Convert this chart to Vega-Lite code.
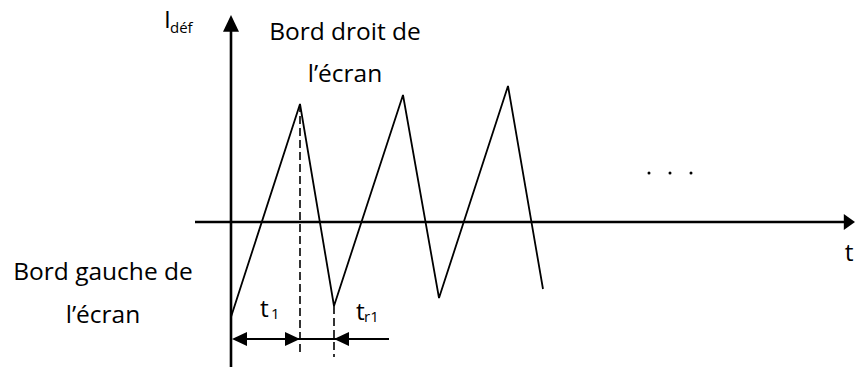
{
  "$schema": "https://vega.github.io/schema/vega-lite/v6.json",
  "width": 855,
  "height": 369,
  "padding": 0,
  "autosize": {"type": "fit", "contains": "padding"},
  "background": "white",
  "config": {"view": {"stroke": null}},
  "layer": [
    {
      "data": {"values": [
        {"x": 0, "y": -95}, {"x": 69, "y": 118}, {"x": 103, "y": -84},
        {"x": 172, "y": 127}, {"x": 208, "y": -76}, {"x": 277, "y": 136},
        {"x": 312, "y": -67}
      ]},
      "mark": {"type": "line", "color": "black", "strokeWidth": 1.8},
      "encoding": {
        "x": {"field": "x", "type": "quantitative", "scale": {"domain": [-231, 624], "nice": false, "zero": false}, "axis": null},
        "y": {"field": "y", "type": "quantitative", "scale": {"domain": [-147, 222], "nice": false, "zero": false}, "axis": null},
        "order": {"field": "x"}
      }
    },
    {
      "data": {"values": [
        {"x": 0, "y": -145, "x2": 0, "y2": 192},
        {"x": -36, "y": 0, "x2": 615, "y2": 0}
      ]},
      "mark": {"type": "rule", "color": "black", "strokeWidth": 2.6},
      "encoding": {
        "x": {"field": "x", "type": "quantitative", "scale": {"domain": [-231, 624], "nice": false, "zero": false}, "axis": null},
        "y": {"field": "y", "type": "quantitative", "scale": {"domain": [-147, 222], "nice": false, "zero": false}, "axis": null},
        "x2": {"field": "x2"},
        "y2": {"field": "y2"}
      }
    },
    {
      "data": {"values": [
        {"x": 69, "y": 118, "x2": 69, "y2": -131},
        {"x": 103, "y": -84, "x2": 103, "y2": -135}
      ]},
      "mark": {"type": "rule", "color": "black", "strokeWidth": 1.6, "strokeDash": [8, 4]},
      "encoding": {
        "x": {"field": "x", "type": "quantitative", "scale": {"domain": [-231, 624], "nice": false, "zero": false}, "axis": null},
        "y": {"field": "y", "type": "quantitative", "scale": {"domain": [-147, 222], "nice": false, "zero": false}, "axis": null},
        "x2": {"field": "x2"},
        "y2": {"field": "y2"}
      }
    },
    {
      "data": {"values": [
        {"x": 4, "y": -117, "x2": 158, "y2": -117}
      ]},
      "mark": {"type": "rule", "color": "black", "strokeWidth": 2},
      "encoding": {
        "x": {"field": "x", "type": "quantitative", "scale": {"domain": [-231, 624], "nice": false, "zero": false}, "axis": null},
        "y": {"field": "y", "type": "quantitative", "scale": {"domain": [-147, 222], "nice": false, "zero": false}, "axis": null},
        "x2": {"field": "x2"},
        "y2": {"field": "y2"}
      }
    },
    {
      "data": {"values": [{"x": 0, "y": 207}]},
      "mark": {"type": "point", "shape": "M0,0L-1,2.1L1,2.1Z", "size": 256, "filled": true, "color": "black", "opacity": 1, "strokeWidth": 0},
      "encoding": {
        "x": {"field": "x", "type": "quantitative", "scale": {"domain": [-231, 624], "nice": false, "zero": false}, "axis": null},
        "y": {"field": "y", "type": "quantitative", "scale": {"domain": [-147, 222], "nice": false, "zero": false}, "axis": null}
      }
    },
    {
      "data": {"values": [{"x": 624, "y": 0}]},
      "mark": {"type": "point", "shape": "M0,0L-1.4,-1L-1.4,1Z", "size": 256, "filled": true, "color": "black", "opacity": 1, "strokeWidth": 0},
      "encoding": {
        "x": {"field": "x", "type": "quantitative", "scale": {"domain": [-231, 624], "nice": false, "zero": false}, "axis": null},
        "y": {"field": "y", "type": "quantitative", "scale": {"domain": [-147, 222], "nice": false, "zero": false}, "axis": null}
      }
    },
    {
      "data": {"values": [{"x": 1, "y": -117}, {"x": 103, "y": -117}]},
      "mark": {"type": "point", "shape": "M0,0L2.14,-1L2.14,1Z", "size": 196, "filled": true, "color": "black", "opacity": 1, "strokeWidth": 0},
      "encoding": {
        "x": {"field": "x", "type": "quantitative", "scale": {"domain": [-231, 624], "nice": false, "zero": false}, "axis": null},
        "y": {"field": "y", "type": "quantitative", "scale": {"domain": [-147, 222], "nice": false, "zero": false}, "axis": null}
      }
    },
    {
      "data": {"values": [{"x": 69, "y": -117}]},
      "mark": {"type": "point", "shape": "M0,0L-2.14,-1L-2.14,1Z", "size": 196, "filled": true, "color": "black", "opacity": 1, "strokeWidth": 0},
      "encoding": {
        "x": {"field": "x", "type": "quantitative", "scale": {"domain": [-231, 624], "nice": false, "zero": false}, "axis": null},
        "y": {"field": "y", "type": "quantitative", "scale": {"domain": [-147, 222], "nice": false, "zero": false}, "axis": null}
      }
    },
    {
      "data": {"values": [{"x": 418, "y": 49}, {"x": 439, "y": 49}, {"x": 460, "y": 49}]},
      "mark": {"type": "point", "shape": "circle", "size": 9, "filled": true, "color": "black", "opacity": 1, "strokeWidth": 0},
      "encoding": {
        "x": {"field": "x", "type": "quantitative", "scale": {"domain": [-231, 624], "nice": false, "zero": false}, "axis": null},
        "y": {"field": "y", "type": "quantitative", "scale": {"domain": [-147, 222], "nice": false, "zero": false}, "axis": null}
      }
    },
    {
      "data": {"values": [
        {"x": 114, "y": 182, "label": "Bord droit de"},
        {"x": 114, "y": 140, "label": "l’écran"},
        {"x": -128, "y": -58, "label": "Bord gauche de"},
        {"x": -128, "y": -101, "label": "l’écran"},
        {"x": 618, "y": -39, "label": "t"}
      ]},
      "mark": {"type": "text", "font": "Open Sans", "fontSize": 24.5, "fill": "black", "align": "center", "baseline": "alphabetic"},
      "encoding": {
        "x": {"field": "x", "type": "quantitative", "scale": {"domain": [-231, 624], "nice": false, "zero": false}, "axis": null},
        "y": {"field": "y", "type": "quantitative", "scale": {"domain": [-147, 222], "nice": false, "zero": false}, "axis": null},
        "text": {"field": "label"}
      }
    },
    {
      "data": {"values": [
        {"x": 29, "y": -95, "label": "t"},
        {"x": 125, "y": -98, "label": "t"},
        {"x": -67, "y": 194, "label": "I"}
      ]},
      "mark": {"type": "text", "font": "Open Sans", "fontSize": 24.5, "fill": "black", "align": "left", "baseline": "alphabetic"},
      "encoding": {
        "x": {"field": "x", "type": "quantitative", "scale": {"domain": [-231, 624], "nice": false, "zero": false}, "axis": null},
        "y": {"field": "y", "type": "quantitative", "scale": {"domain": [-147, 222], "nice": false, "zero": false}, "axis": null},
        "text": {"field": "label"}
      }
    },
    {
      "data": {"values": [
        {"x": 40, "y": -97, "label": "1"},
        {"x": 133, "y": -100, "label": "r1"},
        {"x": -61, "y": 189, "label": "déf"}
      ]},
      "mark": {"type": "text", "font": "Open Sans", "fontSize": 15, "fill": "black", "align": "left", "baseline": "alphabetic"},
      "encoding": {
        "x": {"field": "x", "type": "quantitative", "scale": {"domain": [-231, 624], "nice": false, "zero": false}, "axis": null},
        "y": {"field": "y", "type": "quantitative", "scale": {"domain": [-147, 222], "nice": false, "zero": false}, "axis": null},
        "text": {"field": "label"}
      }
    }
  ]
}
